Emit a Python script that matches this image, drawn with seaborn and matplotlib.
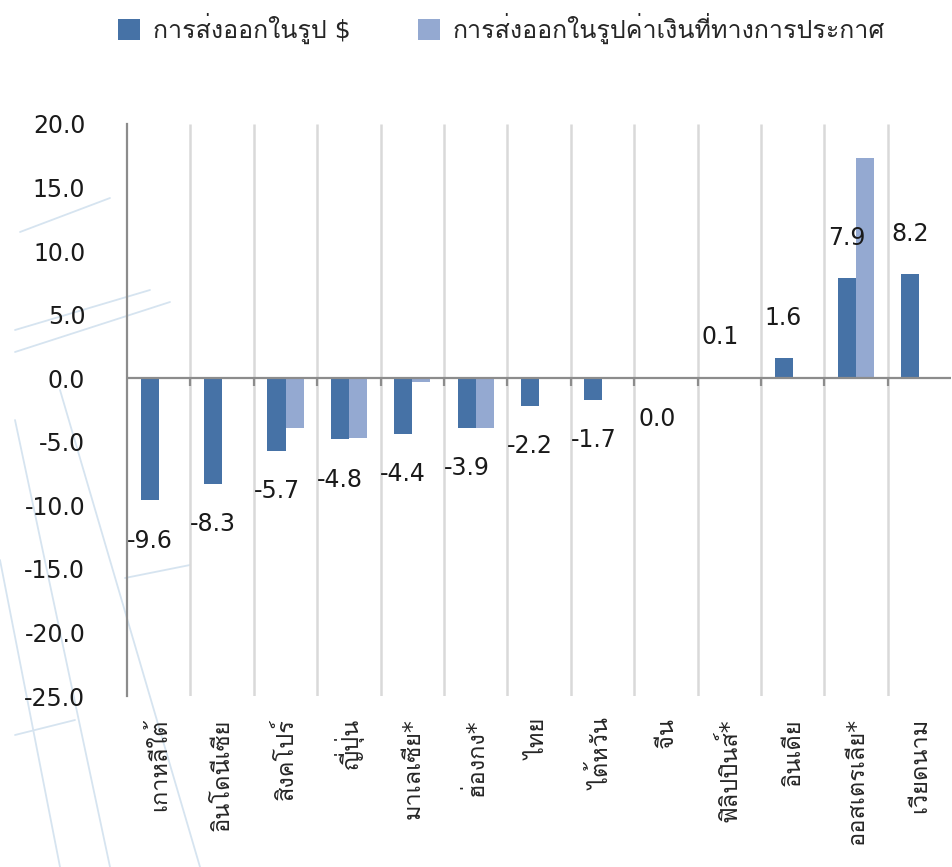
import numpy as np
import pandas as pd
import matplotlib
matplotlib.use("Agg")
import matplotlib.pyplot as plt
import seaborn as sns
from matplotlib import font_manager
from matplotlib.ft2font import FT2Font
from matplotlib.patches import Patch
from matplotlib.lines import Line2D

# Data
countries = ["เกาหลีใต้", "อินโดนีเซีย", "สิงคโปร์", "ญี่ปุ่น", "มาเลเซีย*", "ฮ่องกง*",
             "ไทย", "ไต้หวัน", "จีน", "ฟิลิปปินส์*", "อินเดีย", "ออสเตรเลีย*", "เวียดนาม"]
usd_values = [-9.6, -8.3, -5.7, -4.8, -4.4, -3.9, -2.2, -1.7, 0.0, 0.1, 1.6, 7.9, 8.2]
local_values = [np.nan, np.nan, -3.9, -4.7, -0.3, -3.9, np.nan, np.nan, np.nan, np.nan,
                np.nan, 17.3, np.nan]
series_names = ["การส่งออกในรูป $", "การส่งออกในรูปค่าเงินที่ทางการประกาศ"]
y_ticks = [-25, -20, -15, -10, -5, 0, 5, 10, 15, 20]

colors = ["#4672A6", "#94A9D1"]


# find any installed font that has Thai glyphs, use it as fallback
def find_thai_font():
    for path in sorted(font_manager.findSystemFonts()):
        try:
            cmap = FT2Font(path).get_charmap()
        except Exception:
            continue
        if 0x0E01 in cmap and 0x0E32 in cmap:
            try:
                font_manager.fontManager.addfont(path)
                return font_manager.FontProperties(fname=path).get_name()
            except Exception:
                continue
    return None


sns.set_style("white")
thai = find_thai_font()
families = ["DejaVu Sans"]
if thai:
    families.append(thai)
plt.rcParams["font.family"] = families
plt.rcParams["axes.unicode_minus"] = False

df = pd.DataFrame({
    "country": countries * 2,
    "value": usd_values + local_values,
    "series": [series_names[0]] * len(countries) + [series_names[1]] * len(countries),
})

W, H = 953, 867
fig = plt.figure(figsize=(W / 100, H / 100), dpi=100)

# faint background watermark strokes on the left (pixel coords, y from top)
wm = [((15, 420), (110, 867)), ((60, 390), (200, 867)), ((0, 560), (60, 867)),
      ((15, 330), (150, 290)), ((15, 352), (170, 302)), ((20, 232), (110, 198)),
      ((125, 578), (190, 565)), ((15, 735), (75, 720))]
for (x0, y0), (x1, y1) in wm:
    fig.add_artist(Line2D([x0 / W, x1 / W], [1 - y0 / H, 1 - y1 / H],
                          color="#D6E4F0", lw=1.3, zorder=-5))

ax = fig.add_axes([0.1333, 0.1972, 0.8647, 0.6598])
ax.patch.set_alpha(0)

sns.barplot(data=df, x="country", y="value", hue="series", order=countries,
            hue_order=series_names, palette=colors, width=0.57, errorbar=None,
            saturation=1, linewidth=0, ax=ax, legend=False)

n = len(countries)
ax.set_xlim(-0.5, n - 0.5)
ax.set_ylim(-25, 20)
ax.set_yticks(y_ticks)
ax.set_yticklabels([f"{v:.1f}" for v in y_ticks], fontsize=17, color="#1a1a1a")
ax.set_xlabel("")
ax.set_ylabel("")

# category boundaries: light vertical grid + small ticks on the zero line
bounds = np.arange(n - 1) + 0.5
ax.vlines(bounds, -25, 20, color="#D9D9D9", lw=1.8, zorder=0)
ax.axhline(0, color="#8C8C8C", lw=1.6, zorder=3)
ax.vlines(bounds, -0.65, 0, color="#8C8C8C", lw=1.6, zorder=3)

for side in ["top", "right", "bottom"]:
    ax.spines[side].set_visible(False)
ax.spines["left"].set_color("#8C8C8C")
ax.spines["left"].set_linewidth(1.6)
ax.tick_params(axis="y", direction="out", length=9, width=1.4, color="#8C8C8C", pad=21)

ax.set_xticks(range(n))
ax.set_xticklabels(countries, rotation=90, fontsize=17, va="top", ha="center")
ax.tick_params(axis="x", length=0, pad=16)

# data labels for the $ series
for i, v in enumerate(usd_values):
    off = 29 if v > 0 else -29
    ax.annotate(f"{v:.1f}", xy=(i - 0.143, v), xytext=(0, off), textcoords="offset points",
                ha="center", va="center", fontsize=17, color="#1a1a1a")

handles = [Patch(facecolor=c, edgecolor="none") for c in colors]
fig.legend(handles, series_names, loc="center", bbox_to_anchor=(0.526, 0.967), ncol=2,
           frameon=False, fontsize=18, handlelength=0.9, handleheight=0.9,
           handletextpad=0.5, columnspacing=2.7)

fig.savefig("out.png", dpi=100)
